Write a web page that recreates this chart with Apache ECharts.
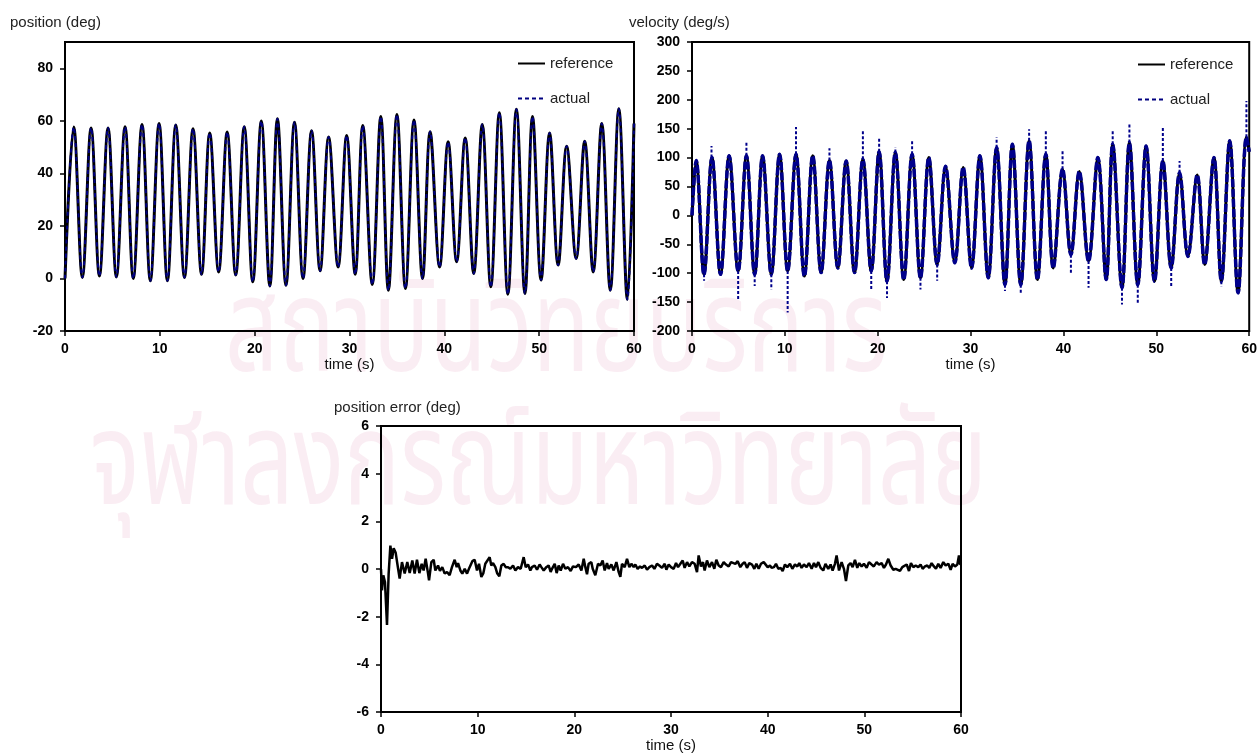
<!DOCTYPE html>
<html><head><meta charset="utf-8">
<script src="https://cdn.jsdelivr.net/npm/echarts@6/dist/echarts.min.js"></script>
<style>html,body{margin:0;padding:0;background:#fff}#c{width:1260px;height:754px}</style>
</head><body><div id="c"></div>
<script>
// ---- position (deg): times of the read extremes and their values
const posT = [0, 0.92, 1.83, 2.75, 3.63, 4.54, 5.42, 6.33, 7.2, 8.12, 9.0, 9.92, 10.8, 11.68, 12.6, 13.5, 14.4, 15.26, 16.2, 17.1, 18.0, 18.9, 19.8, 20.7, 21.6, 22.4, 23.3, 24.2, 25.1, 26.0, 26.9, 27.8, 28.8, 29.7, 30.6, 31.4, 32.4, 33.3, 34.1, 35.0, 35.9, 36.8, 37.7, 38.5, 39.5, 40.4, 41.3, 42.2, 43.1, 44.0, 44.9, 45.8, 46.7, 47.6, 48.5, 49.3, 50.2, 51.1, 52.0, 52.9, 53.9, 54.8, 55.7, 56.6, 57.5, 58.4, 59.3, 60];
const posRef = [0, 57.6, 0.4, 57.3, 0.9, 57.3, 0.6, 57.7, 0, 58.6, -0.9, 59.0, -0.9, 58.4, 0.4, 57.0, 1.6, 55.4, 2.5, 55.7, 1.3, 57.7, -1.3, 59.9, -2.9, 60.8, -2.6, 59.5, 0, 56.2, 2.9, 53.8, 4.4, 54.4, 1.6, 58.2, -2.3, 61.6, -4.5, 62.4, -3.8, 60.3, 0, 55.8, 4.4, 52.0, 6.4, 53.5, 1.9, 58.6, -3.2, 63.1, -6.0, 64.4, -5.7, 61.6, -0.6, 55.4, 5.1, 50.3, 7.6, 52.2, 2.5, 59.0, -4.5, 64.6, -8.0, 59];
const posAct = [0, 57.6, 0.4, 57.3, 0.9, 57.3, 0.6, 57.7, 0, 58.6, -0.9, 59.0, -0.9, 58.4, 0.4, 57.0, 1.6, 55.4, 2.5, 55.7, 1.3, 57.7, -1.3, 59.9, -2.9, 60.8, -2.6, 59.5, 0, 56.2, 2.9, 53.8, 4.4, 54.4, 1.6, 58.2, -2.3, 61.6, -4.5, 62.4, -3.8, 60.3, 0, 55.8, 4.4, 52.0, 6.4, 53.5, 1.9, 58.6, -3.2, 63.1, -6.0, 64.4, -5.7, 61.6, -0.6, 55.4, 5.1, 50.3, 7.6, 52.2, 2.5, 59.0, -4.5, 64.6, -8.0, 59];

// ---- velocity (deg/s)
const velT = [0, 0.45, 1.29, 2.15, 3.07, 4.0, 4.97, 5.86, 6.75, 7.6, 8.54, 9.43, 10.3, 11.2, 12.1, 13.0, 13.9, 14.8, 15.7, 16.6, 17.5, 18.4, 19.3, 20.15, 21.0, 21.9, 22.8, 23.7, 24.6, 25.5, 26.4, 27.3, 28.3, 29.2, 30.1, 31.0, 31.9, 32.8, 33.7, 34.5, 35.4, 36.3, 37.2, 38.1, 38.9, 39.9, 40.8, 41.7, 42.7, 43.7, 44.6, 45.3, 46.3, 47.1, 48.0, 48.9, 49.8, 50.7, 51.6, 52.5, 53.4, 54.4, 55.2, 56.2, 57.0, 57.9, 58.8, 59.7, 60];
const velRef = [0, 95, -102, 100, -102, 103, -96, 103, -102, 103, -102, 106, -96, 106, -105, 103, -99, 95, -91, 94, -99, 97, -96, 110, -114, 109, -111, 106, -108, 100, -85, 85, -82, 83, -91, 103, -108, 117, -120, 123, -120, 129, -111, 106, -91, 80, -68, 76, -79, 100, -111, 123, -125, 126, -120, 120, -114, 94, -91, 74, -71, 70, -85, 100, -114, 129, -134, 135, 110];
const velAct = [0, 95, -102, 100, -102, 103, -96, 103, -102, 103, -102, 106, -96, 106, -105, 103, -99, 95, -91, 94, -99, 97, -96, 110, -114, 109, -111, 106, -108, 100, -85, 85, -82, 83, -91, 103, -108, 117, -120, 123, -120, 129, -111, 106, -91, 80, -68, 76, -79, 100, -111, 123, -125, 126, -120, 120, -114, 94, -91, 74, -71, 70, -85, 100, -114, 129, -134, 135, 110];
// noisy excursions of the measured velocity: time, from, to
const spikeT    = [1.3, 2.1, 4.97, 5.86, 6.75, 8.54, 10.3, 11.2, 14.8, 18.4, 19.3, 20.15, 21.0, 21.9, 23.7, 24.6, 26.4, 32.8, 33.7, 35.4, 36.3, 38.1, 39.9, 40.8, 42.7, 45.3, 46.3, 47.1, 48.0, 50.7, 51.6, 52.5, 57.0, 59.7];
const spikeFrom = [-102, 100, -96, 103, -102, -102, -96, 106, 95, 97, -96, 110, -114, 109, 106, -108, -85, 117, -120, -120, 129, 106, 80, -68, -79, 123, -125, 126, -120, 94, -91, 74, -114, 135];
const spikeTo   = [-113, 120, -148, 126, -122, -128, -168, 153, 116, 147, -128, 133, -143, 118, 130, -128, -113, 135, -131, -136, 149, 149, 114, -102, -125, 146, -154, 158, -154, 152, -123, 94, -123, 198];

// ---- position error (deg): [time, error]
const errPoints = [
[0,0],[0.1,-0.89],[0.24,-0.26],[0.41,-0.54],[0.62,-2.34],[0.79,-0.2],[0.97,0.98],[1.14,0.43],[1.31,0.87],[1.52,0.68],[1.69,0.22],
[1.93,-0.4],[2.17,0.29],[2.45,-0.19],[2.72,0.29],[2.97,-0.17],[3.24,0.36],[3.48,-0.19],[3.72,0.39],[3.97,-0.17],[4.21,0.22],
[4.41,-0.06],[4.62,0.43],[4.86,-0.17],[4.97,-0.47],[5.21,0.29],[5.45,0.39],[5.62,-0.06],[5.9,0.15],[6.1,-0.08],[6.34,0.08],
[6.59,-0.19],[6.83,-0.12],[7.1,-0.26],[7.34,0.08],[7.62,0.39],[7.83,0.08],[7.97,0.25],[8.21,-0.06],[8.41,-0.19],[8.66,0.01],
[8.9,-0.19],[9.17,0.08],[9.45,0.33],[9.69,0.39],[9.93,-0.06],[10.14,0.22],[10.38,-0.33],[10.59,-0.17],[10.79,0.22],[10.97,0.29],
[11.24,0.5],[11.41,0.15],[11.59,0.25],[11.83,0.08],[12.03,-0.19],[12.24,-0.3],[12.45,0.15],[12.69,0.22],[12.9,0.08],[13.14,0.08],
[13.38,0.01],[13.66,0.15],[13.9,-0.06],[14.17,0.08],[14.45,0.01],[14.76,0.5],[14.97,0.08],[15.21,0.19],[15.45,-0.06],[15.62,0.08],
[15.9,0.15],[16.14,-0.03],[16.41,0.19],[16.59,0.08],[16.83,-0.06],[17.1,0.08],[17.34,0.15],[17.55,-0.12],[17.69,0.01],[17.97,0.22],
[18.17,-0.17],[18.38,0.15],[18.59,-0.06],[18.83,0.22],[19.07,0.01],[19.34,0.08],[19.62,-0.08],[19.86,0.11],[20.17,0.08],
[20.45,0.19],[20.73,-0.06],[20.97,0.43],[21.14,0.08],[21.31,-0.22],[21.48,0.22],[21.76,0.29],[21.9,0.01],[22.17,-0.26],[22.45,0.22],
[22.69,0.15],[22.93,0.36],[23.14,-0.06],[23.38,0.25],[23.55,0.01],[23.83,0.19],[24.07,-0.06],[24.35,0.29],[24.59,-0.13],[24.76,-0.33],
[24.93,0.22],[25.21,0.08],[25.45,0.43],[25.69,0.08],[25.9,0.22],[26.14,0.08],[26.31,0.19],[26.55,0.01],[26.79,0.11],[27.0,0.05],
[27.28,0.15],[27.52,-0.03],[27.76,0.08],[28.04,0.15],[28.28,0.01],[28.55,0.22],[28.79,0.15],[29.07,0.05],[29.35,0.22],[29.52,-0.03],
[29.76,0.19],[30.0,0.08],[30.28,0.01],[30.52,0.25],[30.73,0.08],[30.97,0.22],[31.21,0.36],[31.41,0.05],[31.66,0.29],[31.9,0.11],
[32.17,0.29],[32.45,0.22],[32.69,-0.13],[32.86,0.57],[33.1,0.11],[33.31,0.29],[33.48,-0.06],[33.72,0.36],[33.97,0.08],[34.24,0.29],
[34.48,0.01],[34.69,0.39],[34.93,0.15],[35.17,0.08],[35.45,0.29],[35.69,0.19],[35.97,0.11],[36.21,0.29],[36.41,0.25],[36.66,0.22],
[36.9,0.33],[37.17,0.08],[37.41,0.22],[37.62,0.29],[37.86,0.05],[38.1,0.25],[38.38,0.19],[38.62,0.01],[38.83,0.22],[39.07,0.01],
[39.31,0.22],[39.59,0.29],[40.0,0.08],[40.24,0.15],[40.41,0.05],[40.65,0.08],[40.86,0.22],[41.1,0.01],[41.34,0.05],[41.55,-0.08],
[41.79,0.19],[42.03,0.08],[42.31,0.22],[42.55,0.01],[42.82,0.19],[43.07,0.11],[43.27,0.25],[43.51,0.05],[43.75,0.19],[44.03,0.08],
[44.27,0.25],[44.55,0.01],[44.79,0.25],[45.0,0.08],[45.24,0.29],[45.48,0.05],[45.75,-0.06],[45.98,0.22],[46.27,0.01],[46.51,0.19],
[46.72,-0.06],[46.96,0.22],[47.13,0.57],[47.38,-0.06],[47.65,0.29],[47.89,0.01],[48.1,-0.5],[48.34,0.15],[48.58,0.25],[48.79,0.08],
[49.03,0.39],[49.27,0.05],[49.48,0.25],[49.72,0.11],[49.96,0.22],[50.24,0.05],[50.48,0.29],[50.75,0.19],[50.98,0.11],[51.27,0.29],
[51.51,0.19],[51.79,0.25],[52.03,0.05],[52.24,0.19],[52.48,0.43],[52.72,0.15],[53.0,-0.03],[53.24,0.01],[53.44,-0.03],[53.69,-0.08],
[53.93,0.08],[54.13,0.05],[54.38,0.19],[54.62,-0.08],[54.82,0.25],[55.07,0.08],[55.31,0.15],[55.58,0.08],[55.82,0.19],[56.03,0.01],
[56.27,0.11],[56.51,0.15],[56.72,0.05],[56.96,0.25],[57.2,0.11],[57.41,0.01],[57.65,0.22],[57.89,0.05],[58.17,0.29],[58.41,0.15],
[58.69,0.22],[58.93,-0.03],[59.13,0.22],[59.38,0.11],[59.62,0.19],[59.79,0.57],[59.89,0.22],[60,0.2]
];

const legendNames = ['reference', 'actual'];
const titles = ['position (deg)', 'velocity (deg/s)', 'position error (deg)'];
const xName = 'time (s)';
const watermark = ['สถาบันวิทยบริการ', 'จุฬาลงกรณ์มหาวิทยาลัย'];

// ---------------- build ----------------
const FONT = 'Liberation Sans';
const zip = (a, b) => a.map((t, i) => [t, b[i]]);
const spikeData = [];
spikeT.forEach((t, i) => { spikeData.push([t, spikeFrom[i]], [t, spikeTo[i]], null); });

function xAxis(gi, gap) {
  return {
    type: 'value', gridIndex: gi, min: 0, max: 60, interval: 10,
    name: xName, nameLocation: 'middle', nameGap: gap,
    nameTextStyle: { fontFamily: FONT, fontSize: 15, color: '#111' },
    axisLine: { show: true, onZero: false, lineStyle: { color: '#000', width: 2 } },
    axisTick: { show: true, length: 5, lineStyle: { color: '#000', width: 1.5 } },
    axisLabel: { color: '#000', fontWeight: 'bold', fontSize: 14, fontFamily: FONT, margin: 11 },
    splitLine: { show: false }
  };
}
function yAxis(gi, min, max, interval, hideMax) {
  return {
    type: 'value', gridIndex: gi, min: min, max: max, interval: interval,
    axisLine: { show: true, onZero: false, lineStyle: { color: '#000', width: 2 } },
    axisTick: { show: true, length: 5, lineStyle: { color: '#000', width: 1.5 } },
    axisLabel: { color: '#000', fontWeight: 'bold', fontSize: 14, fontFamily: FONT, margin: 12, showMaxLabel: !hideMax },
    splitLine: { show: false }
  };
}
const gridBox = { show: true, borderColor: '#000', borderWidth: 2, backgroundColor: 'transparent' };
const legendBase = {
  orient: 'vertical', itemWidth: 27, itemHeight: 14, itemGap: 20, data: legendNames,
  itemStyle: { opacity: 0 },
  textStyle: { fontFamily: FONT, fontSize: 15, color: '#222' }
};
const titleText = (txt, x, y) => ({ type: 'text', left: x, top: y, z: 10,
  style: { text: txt, font: '15px "' + FONT + '"', fill: '#222' } });
const wmText = (txt, x, y) => ({ type: 'text', x: x, y: y, scaleX: 0.72, z: -10, silent: true,
  style: { text: txt, font: '130px "Noto Sans Thai", "Noto Sans", sans-serif', fill: 'rgba(215,110,155,0.12)', textVerticalAlign: 'middle' } });

const option = {
  animation: false,
  backgroundColor: '#fff',
  grid: [
    Object.assign({ left: 65, top: 42, width: 569, height: 289 }, gridBox),
    Object.assign({ left: 692, top: 42, width: 560, height: 289 }, gridBox),
    Object.assign({ left: 381, top: 426, width: 580, height: 289 }, gridBox)
  ],
  xAxis: [xAxis(0, 25), xAxis(1, 25), xAxis(2, 23)],
  yAxis: [yAxis(0, -20, 90, 20, true), yAxis(1, -200, 300, 50, false), yAxis(2, -6, 6, 2, false)],
  legend: [
    Object.assign({ left: 512, top: 51 }, legendBase),
    Object.assign({ left: 1132, top: 52 }, legendBase)
  ],
  graphic: [
    wmText(watermark[0], 225, 345),
    wmText(watermark[1], 90, 478),
    titleText(titles[0], 10, 15),
    titleText(titles[1], 629, 15),
    titleText(titles[2], 334, 400)
  ],
  series: [
    { name: 'reference', type: 'line', xAxisIndex: 0, yAxisIndex: 0, data: zip(posT, posRef),
      smooth: 0.36, showSymbol: false, symbol: 'circle', lineStyle: { color: '#000', width: 3 }, itemStyle: { color: '#000' }, z: 2 },
    { name: 'actual', type: 'line', xAxisIndex: 0, yAxisIndex: 0, data: zip(posT, posAct),
      smooth: 0.36, showSymbol: false, symbol: 'circle', lineStyle: { color: '#000080', width: 2, type: [4, 3] }, itemStyle: { color: '#000080' }, z: 3 },
    { name: 'reference', type: 'line', xAxisIndex: 1, yAxisIndex: 1, data: zip(velT, velRef),
      smooth: 0.36, showSymbol: false, symbol: 'circle', lineStyle: { color: '#000', width: 3 }, itemStyle: { color: '#000' }, z: 2 },
    { name: 'actual', type: 'line', xAxisIndex: 1, yAxisIndex: 1, data: zip(velT, velAct),
      smooth: 0.36, showSymbol: false, symbol: 'circle', lineStyle: { color: '#00008b', width: 3.5, type: [8, 2] }, itemStyle: { color: '#000080' }, z: 3 },
    { name: 'actual', type: 'line', xAxisIndex: 1, yAxisIndex: 1, data: spikeData, connectNulls: false,
      showSymbol: false, symbol: 'circle', lineStyle: { color: '#00008b', width: 2, type: [3, 2] }, itemStyle: { color: '#000080' }, z: 4 },
    { name: 'error', type: 'line', xAxisIndex: 2, yAxisIndex: 2, data: errPoints,
      showSymbol: false, symbol: 'circle', lineStyle: { color: '#000', width: 2.5 }, itemStyle: { color: '#000' }, z: 3 }
  ]
};
const chart = echarts.init(document.getElementById('c'), null, { renderer: 'canvas' });
chart.setOption(option);
</script></body></html>
